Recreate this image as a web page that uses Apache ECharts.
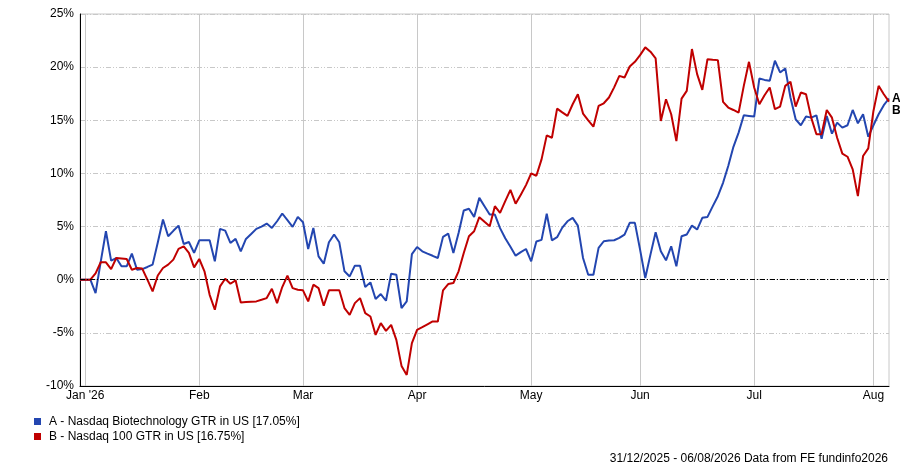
<!DOCTYPE html>
<html>
<head>
<meta charset="utf-8">
<script src="https://cdn.jsdelivr.net/npm/echarts@6/dist/echarts.min.js"></script>
<style>
html,body{margin:0;padding:0;background:#fff;}
#chart{width:900px;height:467px;}
</style>
</head>
<body>
<div id="chart"></div>
<script>
// Series names
const seriesNames = ['A - Nasdaq Biotechnology GTR in US [17.05%]', 'B - Nasdaq 100 GTR in US [16.75%]'];
const endTags = ['A', 'B'];
// Month tick labels (2026)
const monthLabels = ["Jan '26", 'Feb', 'Mar', 'Apr', 'May', 'Jun', 'Jul', 'Aug'];
const yTicks = [-10, -5, 0, 5, 10, 15, 20, 25];
const footerText = '31/12/2025 - 06/08/2026 Data from FE fundinfo2026';

// Cumulative return (%) per trading day, 31/12/2025 .. 06/08/2026
const valuesA = [
  0, 0, 0, -1.26, 1.7, 4.56, 1.79, 2.04, 1.26, 1.26,
  2.45, 0.94, 1.0, 1.2, 1.42, 3.5, 5.66, 4.09, 4.6, 5.09,
  3.36, 3.55, 2.52, 3.71, 3.71, 3.71, 1.73, 4.78, 4.62, 3.46,
  3.84, 2.67, 3.84, 4.3, 4.78, 5.0, 5.28, 4.87, 5.50, 6.23,
  5.6, 4.97, 5.91, 5.41, 2.89, 4.87, 2.2, 1.51, 3.52, 4.25,
  3.52, 0.79, 0.31, 1.32, 1.32, -0.69, -0.25, -1.82, -1.35, -1.98,
  0.57, 0.47, -2.67, -2.04, 2.4, 3.08, 2.67, 2.45, 2.25, 2.04,
  4.03, 4.34, 2.52, 4.4, 6.51, 6.67, 5.91, 7.7, 6.92, 6.13,
  6.13, 4.85, 3.9, 3.1, 2.26, 2.6, 2.89, 1.73, 3.6, 3.75,
  6.2, 3.71, 4.0, 4.9, 5.5, 5.82, 5.09, 2.04, 0.47, 0.47,
  2.99, 3.62, 3.7, 3.71, 3.93, 4.25, 5.35, 5.35, 2.83, 0.16,
  2.36, 4.47, 2.67, 1.82, 3.14, 1.26, 4.09, 4.25, 5.09, 4.72,
  5.82, 5.91, 6.9, 7.86, 9.12, 10.7, 12.5, 13.84, 15.47, 15.41,
  15.35, 18.93, 18.8, 18.71, 20.6, 19.5, 19.88, 17.14, 15.09, 14.53,
  15.35, 15.25, 15.47, 13.27, 15.41, 13.74, 14.78, 14.31, 14.53, 15.97,
  14.72, 15.57, 13.46, 14.53, 15.57, 16.42, 17.05
];
const valuesB = [
  0, 0, 0, 0.6, 1.64, 1.64, 1.0, 2.04, 2.0, 1.95,
  0.94, 1.1, 1.05, 0.0, -1.1, 0.4, 1.1, 1.42, 1.89, 2.9,
  3.14, 2.52, 1.16, 1.95, 0.79, -1.42, -2.83, -0.63, 0.09, -0.38,
  -0.06, -2.14, -2.1, -2.07, -2.04, -1.89, -1.73, -0.85, -2.2, -0.69,
  0.38, -0.79, -0.94, -1.0, -2.04, -0.47, -0.79, -2.45, -1.0, -1.0,
  -1.0, -2.67, -3.3, -2.2, -1.73, -3.14, -3.46, -5.19, -4.09, -4.81,
  -4.25, -5.66, -8.11, -8.96, -5.97, -4.72, -4.47, -4.2, -3.93, -3.93,
  -1.01, -0.41, -0.31, 0.79, 2.52, 4.09, 4.56, 5.88, 5.45, 5.03,
  6.92, 6.29, 7.4, 8.45, 7.15, 8.0, 8.9, 10.0, 9.78, 11.32,
  13.58, 13.36, 16.1, 15.75, 15.41, 16.51, 17.45, 15.63, 15.0, 14.4,
  16.35, 16.6, 17.14, 18.1, 19.18, 19.03, 20.06, 20.5, 21.13, 21.86,
  21.45, 20.82, 14.94, 16.98, 15.57, 13.05, 17.04, 17.77, 21.7, 19.34,
  17.86, 20.75, 20.7, 20.66, 16.73, 16.2, 15.97, 15.72, 18.24, 20.5,
  18.08, 16.51, 17.36, 18.08, 16.04, 16.29, 18.24, 18.62, 16.29, 17.61,
  17.45, 15.25, 13.68, 13.68, 15.97, 15.25, 13.36, 11.86, 11.57, 10.38,
  7.86, 11.64, 12.36, 15.88, 18.24, 17.45, 16.75
];

// Trading-day categories (weekdays) from 31/12/2025 to 06/08/2026
const dates = [];
(function () {
  let t = Date.UTC(2025, 11, 31);
  const end = Date.UTC(2026, 7, 6);
  while (t <= end) {
    const d = new Date(t);
    const wd = d.getUTCDay();
    if (wd !== 0 && wd !== 6) dates.push(d.toISOString().slice(0, 10));
    t += 86400000;
  }
})();
const monthStart = new Set();
for (let i = 1; i < dates.length; i++) {
  if (dates[i].slice(5, 7) !== dates[i - 1].slice(5, 7)) monthStart.add(i);
}
const isMonthStart = (idx) => monthStart.has(idx);

const colors = ['#2346b0', '#c00000'];
const font = 'Liberation Sans, Arial, sans-serif';

const chart = echarts.init(document.getElementById('chart'), null, { renderer: 'canvas' });
chart.setOption({
  animation: false,
  color: colors,
  textStyle: { fontFamily: font },
  grid: { left: 80, right: 11, top: 14, bottom: 81, show: true, borderColor: '#c8c8c8', borderWidth: 1 },
  title: {
    text: footerText, right: 12, bottom: 2, padding: 0,
    textStyle: { fontFamily: font, fontSize: 12, fontWeight: 'normal', color: '#000' }
  },
  legend: {
    orient: 'vertical', left: 34, top: 414, padding: 0, itemGap: 0,
    itemWidth: 7, itemHeight: 7, icon: 'rect',
    textStyle: { fontFamily: font, fontSize: 12, color: '#000', lineHeight: 15, padding: [0, 0, 0, 3] },
    data: seriesNames
  },
  xAxis: {
    type: 'category', data: dates, boundaryGap: false,
    axisLine: { onZero: false, lineStyle: { color: '#000', width: 1 } },
    axisTick: { show: false },
    splitLine: { show: true, interval: isMonthStart, lineStyle: { color: '#c8c8c8', width: 1, type: 'solid' } },
    axisLabel: {
      interval: isMonthStart, margin: 4, fontSize: 12, color: '#000', fontFamily: font,
      formatter: (v) => {
        const m = parseInt(v.slice(5, 7), 10) - 1;
        return monthLabels[m] || '';
      }
    }
  },
  yAxis: {
    type: 'value', min: yTicks[0], max: yTicks[yTicks.length - 1], interval: 5,
    axisLine: { show: true, lineStyle: { color: '#000', width: 1 } },
    axisTick: { show: false },
    axisLabel: { formatter: '{value}%', margin: 6, fontSize: 12, color: '#000', fontFamily: font },
    splitLine: { show: true, lineStyle: { color: '#c8c8c8', width: 1, type: [5, 2, 1, 2, 1, 2] } }
  },
  series: [
    {
      name: seriesNames[0], type: 'line', data: valuesA, showSymbol: false, symbol: 'none',
      lineStyle: { width: 2, color: colors[0] },
      endLabel: { show: true, formatter: endTags[0], distance: 3, offset: [0, 0], color: '#000', fontWeight: 'bold', fontSize: 12, fontFamily: font },
      markLine: {
        silent: true, symbol: 'none', label: { show: false },
        lineStyle: { color: '#000', width: 1, type: [5, 2, 1, 2] },
        data: [{ yAxis: 0 }]
      },
      z: 3
    },
    {
      name: seriesNames[1], type: 'line', data: valuesB, showSymbol: false, symbol: 'none',
      lineStyle: { width: 2, color: colors[1] },
      endLabel: { show: true, formatter: endTags[1], distance: 3, offset: [0, 9], color: '#000', fontWeight: 'bold', fontSize: 12, fontFamily: font },
      z: 4
    }
  ]
});
</script>
</body>
</html>
